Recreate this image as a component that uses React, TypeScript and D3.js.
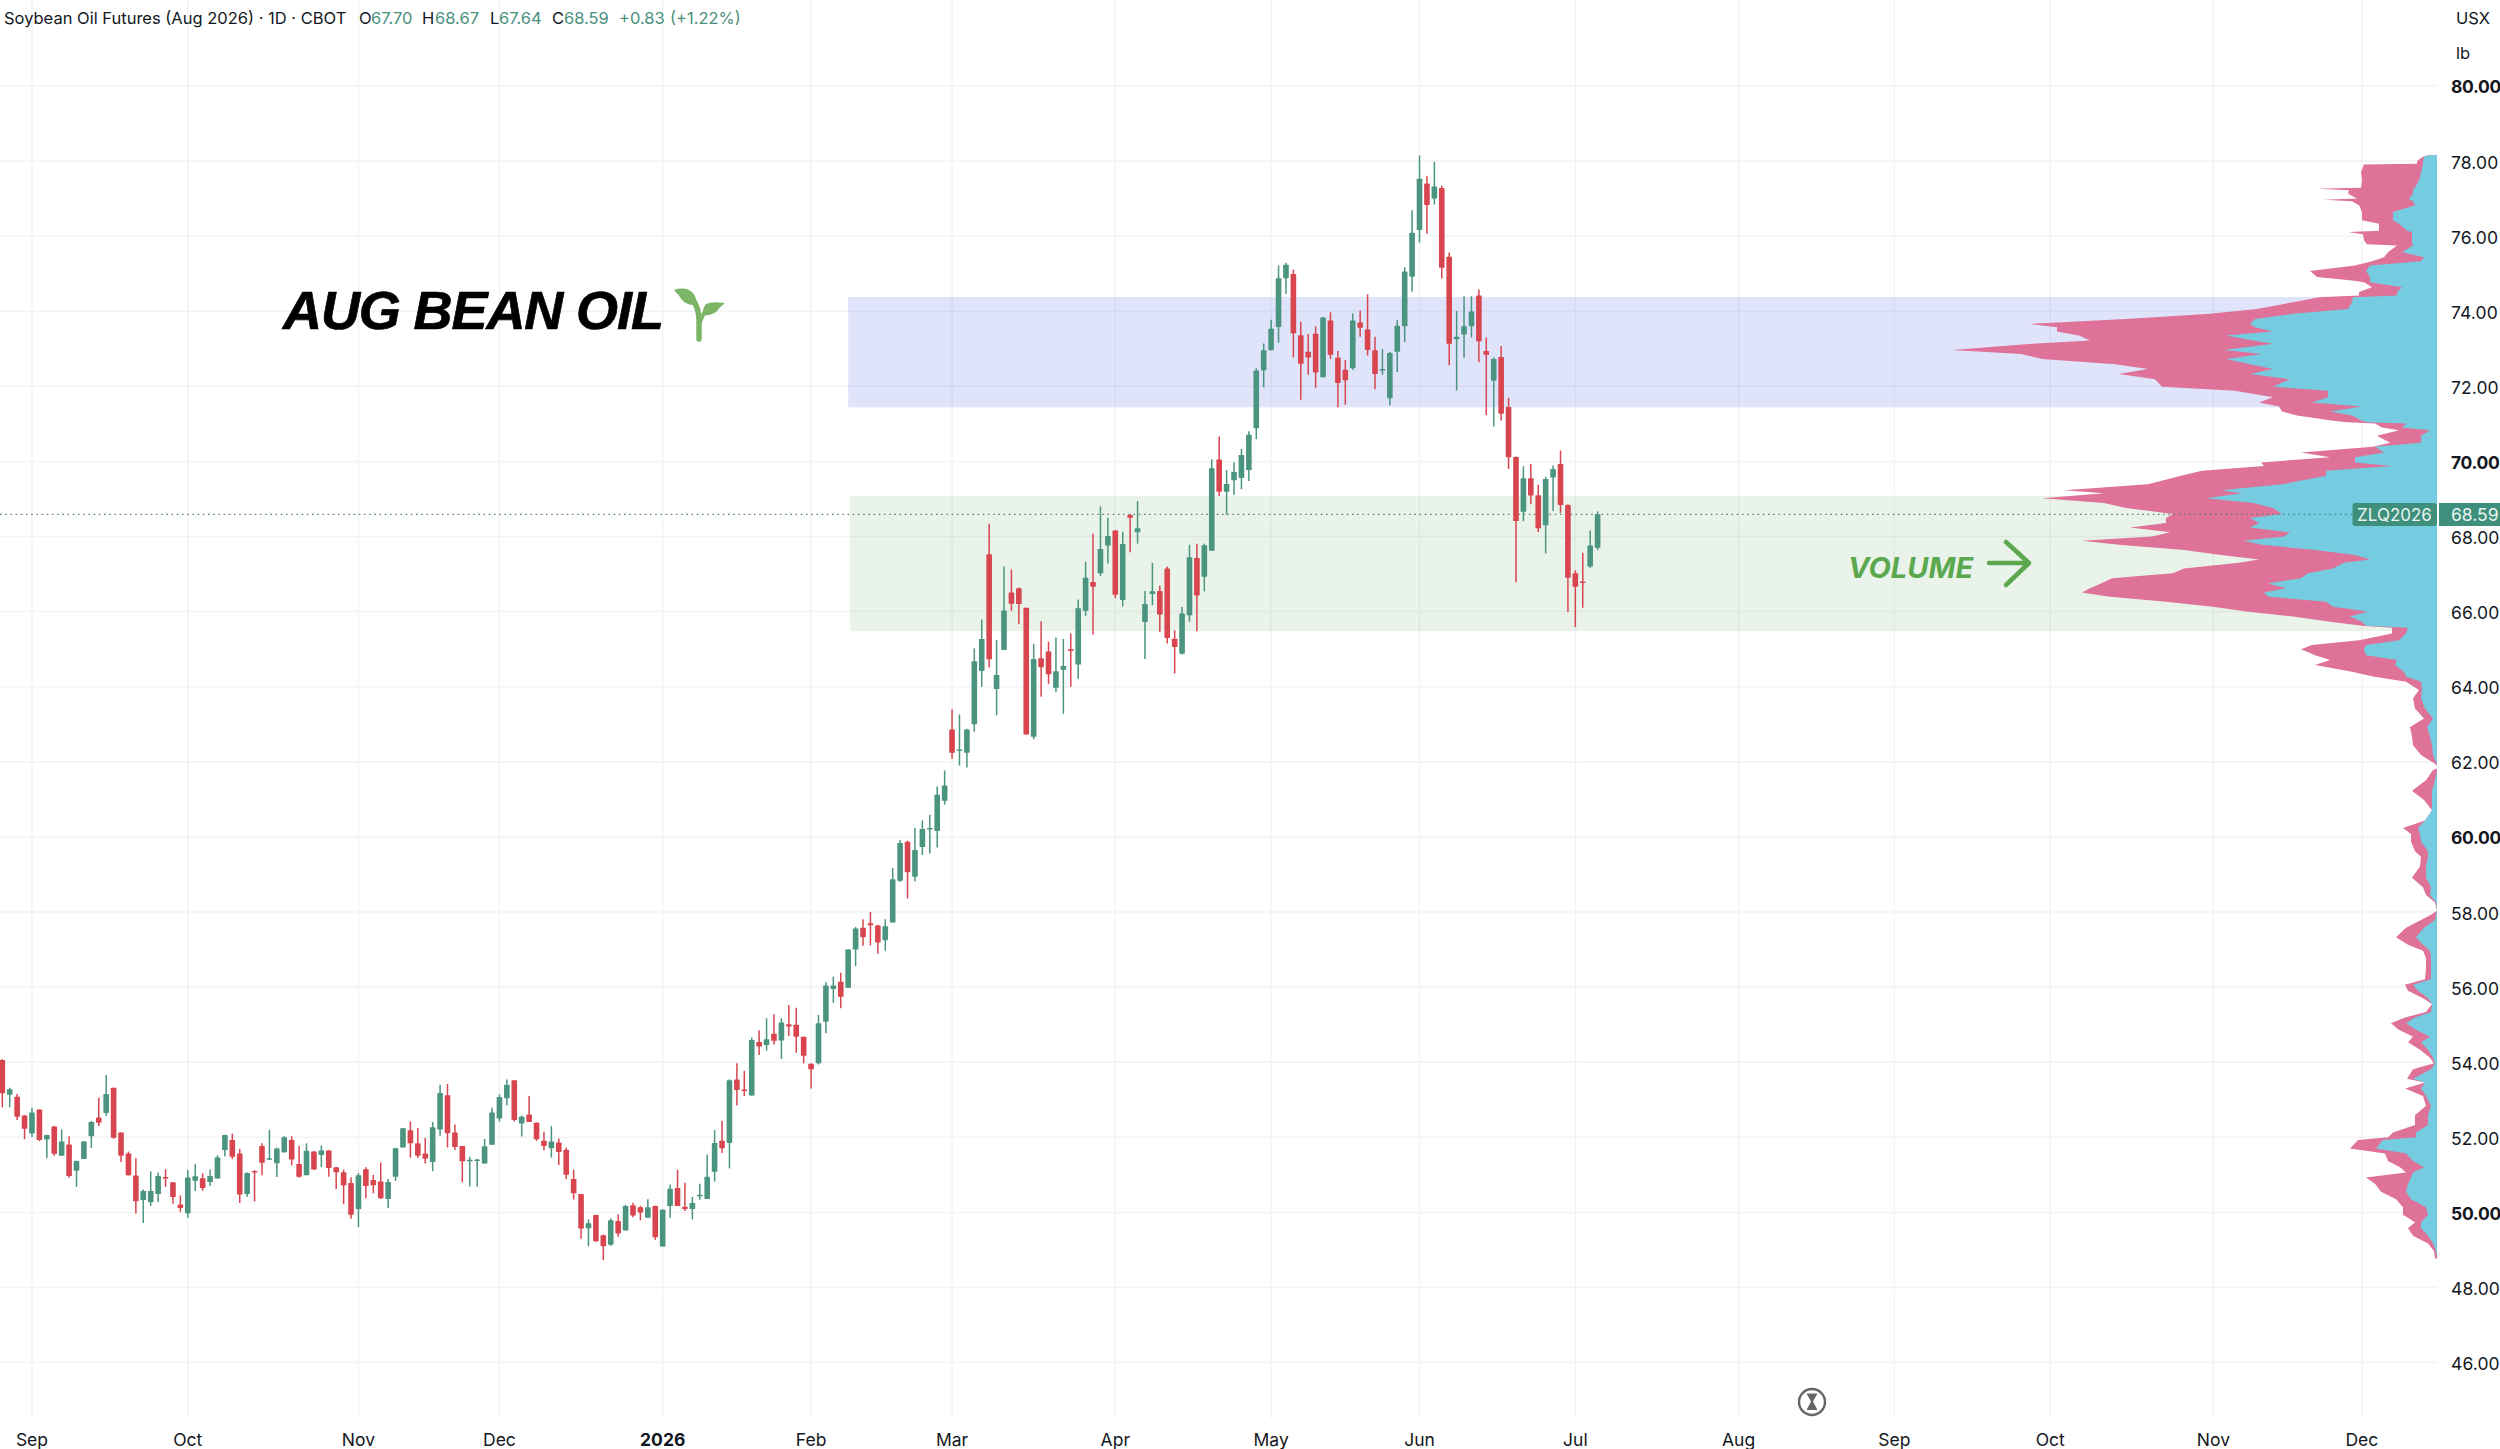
import React from 'react';
import * as d3 from 'd3';

// [open, high, low, close], one array per calendar month
type Bar = [number, number, number, number];

const aug25: Bar[] = [
  [54.06, 54.08, 52.8, 53.17], [53.13, 53.32, 52.8, 53.28], [53.08, 53.15, 52.46, 52.55], [52.58, 52.59, 51.95, 52.23],
];
const sep25: Bar[] = [
  [52.1, 52.79, 52.01, 52.66], [52.74, 52.74, 51.9, 51.93], [51.94, 52.07, 51.44, 52.06], [52.29, 52.3, 51.51, 51.56],
  [51.51, 52.21, 51.51, 51.89], [51.81, 52.03, 50.92, 50.97], [51.11, 51.38, 50.68, 51.37], [51.42, 51.9, 51.42, 51.89],
  [52.03, 52.43, 51.72, 52.41], [52.53, 53.05, 52.3, 52.39], [52.65, 53.66, 52.57, 53.15], [53.32, 53.32, 51.96, 51.99],
  [52.13, 52.13, 51.34, 51.51], [51.57, 51.62, 50.98, 50.99], [50.98, 51.44, 49.97, 50.3], [50.33, 50.61, 49.72, 50.57],
  [50.27, 51.09, 50.17, 50.57], [50.49, 51.06, 50.28, 50.97], [50.94, 51.15, 50.68, 50.9], [50.8, 50.8, 50.23, 50.41],
  [50.21, 50.45, 50.01, 50.12],
];
const oct25: Bar[] = [
  [49.98, 51.13, 49.86, 50.93], [50.84, 51.28, 50.57, 50.96], [50.91, 51.04, 50.58, 50.65], [50.81, 51.14, 50.7, 50.97],
  [50.9, 51.52, 50.9, 51.46], [51.66, 52.07, 51.49, 52.06], [51.93, 52.1, 51.42, 51.48], [51.57, 51.69, 50.25, 50.48],
  [50.49, 51.06, 50.42, 51.05], [51.1, 51.12, 50.29, 51.06], [51.77, 51.84, 50.99, 51.32], [51.4, 52.2, 51.4, 51.44],
  [51.31, 51.73, 50.94, 51.7], [51.6, 52.03, 51.59, 52.0], [51.93, 52.03, 51.25, 51.41], [51.29, 51.77, 50.92, 50.95],
  [50.99, 51.84, 50.99, 51.64], [51.62, 51.63, 51.13, 51.14], [51.53, 51.78, 51.21, 51.65], [51.65, 51.66, 50.95, 51.18],
  [51.2, 51.21, 50.62, 51.07], [51.07, 51.14, 50.22, 50.72], [50.78, 50.93, 49.83, 49.94],
];
const nov25: Bar[] = [
  [50.09, 51.05, 49.61, 50.99], [51.15, 51.2, 50.38, 50.7], [50.86, 51.0, 50.51, 50.72], [50.82, 51.33, 50.36, 50.38],
  [50.36, 50.89, 50.12, 50.81], [50.95, 51.72, 50.84, 51.71], [51.73, 52.25, 51.73, 52.24], [52.19, 52.42, 51.46, 51.84],
  [51.84, 52.25, 51.45, 51.51], [51.57, 51.98, 51.3, 51.43], [51.34, 52.41, 51.1, 52.27], [52.21, 53.4, 52.04, 53.18],
  [53.12, 53.42, 51.73, 52.11], [52.13, 52.34, 51.66, 51.74], [51.77, 51.77, 50.8, 51.36], [51.36, 51.48, 50.69, 51.4],
  [51.37, 51.42, 50.69, 51.41], [51.3, 51.96, 51.3, 51.76], [51.8, 52.79, 51.8, 52.66],
];
const dec25: Bar[] = [
  [52.5, 53.14, 52.42, 53.07], [53.04, 53.54, 52.85, 53.4], [53.52, 53.52, 52.42, 52.46], [52.37, 52.58, 52.02, 52.55],
  [52.61, 53.1, 52.41, 52.41], [52.39, 52.4, 51.9, 51.95], [51.91, 52.15, 51.65, 51.77], [51.71, 52.3, 51.46, 51.89],
  [51.86, 51.97, 51.26, 51.61], [51.67, 51.72, 50.88, 51.0], [50.89, 51.14, 50.34, 50.51], [50.49, 50.49, 49.3, 49.57],
  [49.58, 49.81, 49.1, 49.71], [49.93, 49.94, 49.21, 49.23], [49.39, 49.41, 48.73, 49.1], [49.14, 49.84, 49.11, 49.79],
  [49.77, 49.95, 49.35, 49.44], [49.52, 50.2, 49.52, 50.17], [50.19, 50.26, 49.87, 49.92], [50.14, 50.17, 49.79, 50.0],
  [49.86, 50.35, 49.86, 50.14], [50.17, 50.18, 49.27, 49.34],
];
const jan26: Bar[] = [
  [49.09, 50.08, 49.09, 50.07], [50.17, 50.74, 49.86, 50.63], [50.65, 51.14, 50.17, 50.17], [50.15, 50.79, 50.04, 50.09],
  [50.09, 50.41, 49.81, 50.25], [50.44, 50.76, 50.34, 50.47], [50.36, 51.54, 50.36, 50.95], [51.08, 52.19, 50.82, 51.85],
  [51.91, 52.44, 51.58, 51.71], [51.85, 53.54, 51.17, 53.52], [53.54, 53.97, 52.85, 53.26], [53.27, 53.77, 53.1, 53.23],
  [53.11, 54.66, 53.11, 54.59], [54.54, 54.85, 54.19, 54.42], [54.46, 55.17, 54.31, 54.61], [54.76, 55.28, 54.47, 54.57],
  [54.58, 55.17, 54.09, 55.06], [55.01, 55.52, 54.7, 54.95], [55.0, 55.45, 54.25, 54.68], [54.68, 54.68, 53.97, 54.17],
];
const feb26: Bar[] = [
  [53.96, 53.97, 53.3, 53.81], [53.97, 55.26, 53.94, 55.04], [55.08, 56.13, 54.77, 56.04], [55.95, 56.28, 55.58, 56.04],
  [56.14, 56.38, 55.44, 55.74], [55.98, 57.01, 55.98, 57.0], [57.0, 57.6, 56.56, 57.56], [57.58, 57.81, 57.1, 57.33],
  [57.7, 58.0, 57.11, 57.65], [57.64, 57.66, 56.89, 57.19], [57.25, 57.81, 56.97, 57.62], [57.72, 59.17, 57.72, 58.87],
  [58.83, 59.92, 58.8, 59.84], [59.87, 59.9, 58.36, 59.06], [58.94, 60.24, 58.81, 59.65], [59.73, 60.44, 59.52, 60.21],
  [60.2, 60.59, 59.56, 60.24], [60.16, 61.34, 59.72, 61.12], [60.96, 61.77, 60.86, 61.37],
];
const mar26: Bar[] = [
  [62.86, 63.4, 62.08, 62.24], [62.3, 63.26, 61.9, 62.33], [62.24, 62.88, 61.85, 62.86], [63.0, 65.02, 62.8, 64.68],
  [64.42, 65.79, 64.0, 65.27], [67.53, 68.34, 64.51, 64.73], [63.94, 65.24, 63.24, 64.31], [64.98, 67.2, 64.98, 66.03],
  [66.51, 67.12, 66.02, 66.21], [66.62, 66.64, 65.66, 66.2], [66.1, 66.1, 62.72, 62.73], [62.67, 65.14, 62.6, 64.74],
  [64.76, 65.74, 63.73, 64.52], [64.94, 65.2, 64.07, 64.33], [63.97, 65.31, 63.85, 64.41], [64.45, 65.27, 63.28, 64.55],
  [65.0, 65.42, 64.0, 64.95], [64.59, 66.32, 64.21, 66.09], [66.02, 67.33, 65.89, 66.9], [66.79, 68.07, 65.39, 66.66],
  [67.02, 68.8, 66.95, 67.67], [67.76, 68.5, 67.28, 68.01],
];
const apr26: Bar[] = [
  [68.16, 68.17, 66.36, 66.45], [66.31, 68.13, 66.14, 67.8], [68.57, 68.6, 67.58, 68.5], [68.11, 68.94, 67.81, 68.22],
  [65.72, 66.55, 64.74, 66.2], [66.47, 67.3, 66.17, 66.54], [66.55, 66.69, 65.46, 65.92], [67.15, 67.2, 65.15, 65.3],
  [65.28, 65.5, 64.35, 65.06], [64.88, 66.12, 64.86, 65.95], [65.9, 67.78, 65.73, 67.45], [67.43, 67.81, 65.48, 66.43],
  [66.93, 67.81, 66.54, 67.77], [67.62, 70.06, 67.62, 69.82], [70.05, 70.66, 69.08, 69.19], [69.19, 69.77, 68.58, 69.4],
  [69.5, 69.98, 69.11, 69.72], [69.56, 70.33, 69.26, 70.17], [69.77, 70.8, 69.48, 70.71], [70.88, 72.48, 70.59, 72.42],
  [72.43, 73.14, 71.97, 72.96],
];
const may26: Bar[] = [
  [72.96, 73.77, 72.96, 73.53], [73.58, 75.22, 73.16, 74.88], [74.88, 75.29, 74.46, 75.24], [74.99, 75.11, 72.77, 73.41],
  [73.36, 73.72, 71.64, 72.6], [72.92, 73.39, 72.31, 72.77], [73.4, 73.6, 71.96, 72.37], [72.24, 73.85, 72.24, 73.83],
  [73.75, 73.97, 72.73, 72.84], [72.76, 72.94, 71.44, 72.09], [72.44, 72.7, 71.51, 72.16], [72.48, 73.94, 72.44, 73.75],
  [73.7, 74.02, 73.32, 73.56], [73.51, 74.45, 72.82, 72.97], [72.96, 73.32, 71.92, 72.33], [72.42, 72.99, 72.31, 72.46],
  [71.68, 72.92, 71.49, 72.89], [72.92, 73.77, 72.38, 73.61], [73.6, 75.17, 73.18, 75.06], [74.92, 76.69, 74.52, 76.09],
];
const jun26: Bar[] = [
  [76.16, 78.15, 75.83, 77.53], [77.4, 77.61, 76.06, 76.83], [77.0, 77.98, 76.84, 77.32], [77.28, 77.34, 74.87, 75.16],
  [75.45, 75.56, 72.56, 73.13], [73.25, 74.01, 71.89, 73.32], [73.38, 74.4, 72.76, 73.6], [73.6, 74.4, 73.3, 73.99],
  [74.42, 74.58, 72.64, 73.2], [72.94, 73.3, 71.23, 72.84], [72.15, 72.77, 70.93, 72.73], [72.78, 73.07, 71.09, 71.27],
  [71.45, 71.69, 69.8, 70.11], [70.12, 70.13, 66.78, 68.41], [68.66, 69.87, 68.41, 69.55], [69.55, 69.93, 68.86, 69.09],
  [69.1, 69.38, 68.12, 68.22], [68.3, 69.59, 67.55, 69.53], [69.57, 69.89, 68.68, 69.8], [69.93, 70.29, 68.63, 68.84],
  [68.84, 68.86, 65.99, 66.9],
];
const jul26: Bar[] = [
  [67.02, 67.1, 65.59, 66.66], [66.8, 67.57, 66.1, 66.76], [67.2, 68.16, 67.16, 67.76], [67.7, 68.67, 67.64, 68.59],
];

const bars: Bar[] = [...aug25, ...sep25, ...oct25, ...nov25, ...dec25, ...jan26, ...feb26, ...mar26, ...apr26, ...may26, ...jun26, ...jul26];

const priceTicks = [80, 78, 76, 74, 72, 70, 68, 66, 64, 62, 60, 58, 56, 54, 52, 50, 48, 46];
const boldPrices = [80, 70, 60, 50];

// month label and the bar index where it sits
const monthLabels = ['Sep', 'Oct', 'Nov', 'Dec', '2026', 'Feb', 'Mar', 'Apr', 'May', 'Jun', 'Jul', 'Aug', 'Sep', 'Oct', 'Nov', 'Dec'];
const monthBars = [4, 25, 48, 67, 89, 109, 128, 150, 171, 191, 212, 234, 255, 276, 298, 318];

// visible range profile: price level, total volume (pink edge), up volume (blue edge)
const profilePrices = [
  78.15, 78.11, 78.0, 77.93, 77.91, 77.71, 77.49, 77.29, 77.26, 77.22, 77.13, 77.0, 76.97, 76.93, 76.82, 76.64, 76.42, 76.33, 76.14, 76.11,
  76.05, 75.88, 75.78, 75.75, 75.57, 75.44, 75.33, 75.22, 75.07, 74.91, 74.82, 74.77, 74.64, 74.51, 74.42, 74.37, 74.24, 74.06, 73.93, 73.79,
  73.66, 73.57, 73.46, 73.35, 73.22, 73.13, 72.97, 72.86, 72.73, 72.59, 72.46, 72.33, 72.19, 71.99, 71.88, 71.71, 71.57, 71.46, 71.33, 71.22,
  71.08, 71.04, 71.01, 70.9, 70.83, 70.68, 70.5, 70.39, 70.24, 70.11, 69.97, 69.88, 69.75, 69.62, 69.39, 69.23, 69.15, 69.02, 68.89, 68.76,
  68.6, 68.49, 68.36, 68.24, 68.11, 68.0, 67.89, 67.78, 67.64, 67.51, 67.39, 67.3, 67.15, 67.02, 66.89, 66.75, 66.62, 66.51, 66.4, 66.26,
  66.13, 66.0, 65.87, 65.73, 65.62, 65.57, 65.42, 65.24, 65.11, 65.0, 64.84, 64.71, 64.58, 64.4, 64.27, 64.13, 63.91, 63.69, 63.42, 63.15,
  62.93, 62.67, 62.44, 62.18, 61.93, 61.88, 61.82, 61.78, 61.51, 61.23, 60.98, 60.71, 60.44, 60.24, 60.08, 59.88, 59.62, 59.47, 59.22, 58.91,
  58.66, 58.45, 58.25, 58.04, 57.94, 57.79, 57.58, 57.33, 57.13, 56.97, 56.77, 56.51, 56.21, 56.06, 55.9, 55.7, 55.55, 55.34, 55.19, 55.04,
  54.88, 54.68, 54.53, 54.33, 54.12, 53.97, 53.81, 53.56, 53.46, 53.3, 53.1, 52.84, 52.59, 52.33, 52.13, 52.0, 51.93, 51.7, 51.57, 51.37,
  51.2, 51.06, 50.93, 50.76, 50.55, 50.35, 50.14, 49.94, 49.74, 49.58, 49.38, 49.17, 48.97, 48.77,
];
const totalVolume = [
  9, 14, 20, 20, 73, 76, 75, 76, 120, 88, 89, 80, 113, 85, 78, 75, 75, 58, 58, 89,
  74, 73, 70, 40, 49, 53, 65, 82, 127, 120, 85, 73, 65, 78, 78, 118, 144, 180, 227, 311,
  407, 380, 380, 358, 347, 405, 485, 416, 395, 322, 289, 318, 282, 275, 202, 164, 178, 158, 155, 140,
  104, 90, 62, 55, 38, 60, 47, 64, 136, 107, 176, 173, 235, 256, 289, 373, 333, 395, 333, 311,
  264, 271, 271, 307, 267, 285, 355, 318, 253, 216, 178, 198, 253, 264, 325, 336, 347, 355, 329, 271,
  224, 191, 144, 107, 75, 45, 45, 78, 125, 136, 122, 107, 122, 85, 64, 31, 18, 24, 22, 13,
  27, 25, 24, 16, 1, 0, 0, 4, 11, 25, 13, 5, 12, 34, 26, 26, 22, 16, 17, 25,
  14, 11, 2, 0, 5, 16, 31, 41, 29, 14, 11, 11, 12, 32, 29, 14, 5, 11, 32, 46,
  39, 24, 29, 17, 7, 3, 24, 30, 12, 32, 14, 11, 22, 22, 44, 49, 79, 87, 52, 49,
  37, 31, 71, 62, 56, 41, 34, 34, 22, 29, 24, 9, 3, 2,
];
const upVolume = [
  9, 13, 14, 14, 14, 16, 18, 22, 24, 24, 24, 28, 27, 24, 22, 44, 44, 38, 30, 25,
  25, 25, 25, 24, 35, 13, 16, 67, 71, 67, 67, 67, 35, 40, 40, 84, 85, 89, 144, 182,
  187, 182, 164, 211, 184, 164, 213, 175, 211, 187, 164, 187, 147, 164, 109, 109, 125, 75, 107, 85,
  75, 70, 31, 35, 7, 16, 16, 62, 53, 82, 82, 45, 111, 111, 155, 216, 195, 231, 184, 164,
  155, 187, 178, 187, 147, 153, 193, 175, 122, 82, 67, 93, 104, 129, 136, 169, 151, 173, 169, 111,
  104, 69, 87, 75, 71, 29, 31, 38, 71, 73, 71, 40, 42, 33, 31, 16, 15, 16, 12, 4,
  10, 7, 5, 4, 0, 0, 0, 0, 2, 5, 5, 5, 12, 19, 17, 16, 9, 9, 11, 11,
  6, 7, 1, 0, 1, 2, 13, 21, 14, 7, 6, 6, 6, 24, 19, 9, 5, 6, 22, 31,
  22, 7, 16, 9, 4, 2, 6, 24, 12, 16, 11, 6, 9, 9, 21, 21, 54, 61, 31, 24,
  13, 24, 26, 29, 31, 26, 11, 9, 16, 16, 9, 4, 1, 0,
];

const lastPrice = 68.59;
const GREEN = '#4A9480';
const RED = '#D8454F';
const TICK = '#131722';
const FONT = 'Inter, "Noto Sans", sans-serif';

const y = d3.scaleLinear().domain([78, 48]).range([161, 1287.5]);
const x = d3.scaleLinear().domain([0, 215]).range([2.3, 1597.6]);
const PROFILE_RIGHT = 2437;
const vol = d3.scaleLinear().domain([0, 500]).range([PROFILE_RIGHT, PROFILE_RIGHT - 500]);

const profileArea = (values: number[]) =>
  d3
    .area<number>()
    .y((d) => y(d))
    .x0(PROFILE_RIGHT)
    .x1((_, i) => vol(values[i]))(profilePrices) as string;

// O H L C read-out in the header
const headerBits: { text: string; at: number; value?: boolean }[] = [
  { text: 'Soybean Oil Futures (Aug 2026) · 1D · CBOT', at: 4 },
  { text: 'O', at: 359 },
  { text: '67.70', at: 371, value: true },
  { text: 'H', at: 422 },
  { text: '68.67', at: 435, value: true },
  { text: 'L', at: 490 },
  { text: '67.64', at: 499, value: true },
  { text: 'C', at: 552 },
  { text: '68.59', at: 564, value: true },
  { text: '+0.83', at: 619, value: true },
  { text: '(+1.22%)', at: 670, value: true },
];

export default function App() {
  const bandLeft = x(114);
  return (
    <svg
      width={2500}
      height={1449}
      style={{ position: 'absolute', left: 0, top: 0, background: '#fff', display: 'block' }}
    >
      {/* grid */}
      {priceTicks.map((p) => (
        <line key={p} x1={0} x2={PROFILE_RIGHT} y1={y(p)} y2={y(p)} stroke="#F2F3F5" strokeWidth={1.5} />
      ))}
      {monthBars.map((b, i) => (
        <line key={i} x1={x(b)} x2={x(b)} y1={0} y2={1418} stroke="#F2F3F5" strokeWidth={1.5} />
      ))}

      {/* zones */}
      <rect x={bandLeft} width={PROFILE_RIGHT - bandLeft} y={y(74.38)} height={y(71.44) - y(74.38)} fill="rgb(60,90,230)" opacity={0.16} />
      <rect x={bandLeft + 2} width={PROFILE_RIGHT - bandLeft - 2} y={y(69.08)} height={y(65.48) - y(69.08)} fill="rgb(76,160,70)" opacity={0.12} />

      {/* volume profile */}
      <path d={profileArea(totalVolume)} fill="#DF7298" />
      <path d={profileArea(upVolume)} fill="#75CBDF" />

      {/* last price line */}
      <line x1={0} x2={PROFILE_RIGHT} y1={y(lastPrice)} y2={y(lastPrice)} stroke="#4F7F73" strokeWidth={1.4} strokeDasharray="1.5 3.7" />

      {/* candles */}
      {bars.map(([o, h, l, c], i) => {
        const color = c >= o ? GREEN : RED;
        const top = y(Math.max(o, c));
        const bot = y(Math.min(o, c));
        return (
          <g key={i}>
            <line x1={x(i)} x2={x(i)} y1={y(h)} y2={y(l)} stroke={color} strokeWidth={1.5} />
            <rect x={x(i) - 2.8} width={5.6} y={top} height={Math.max(bot - top, 1.5)} rx={0.6} fill={color} />
          </g>
        );
      })}

      {/* header */}
      {headerBits.map((b) => (
        <text key={b.at} x={b.at} y={24} fontFamily={FONT} fontSize={16.5} fill={b.value ? '#4A8F7B' : TICK}>
          {b.text}
        </text>
      ))}

      {/* price axis */}
      <text x={2456} y={24} fontFamily={FONT} fontSize={16.5} fill={TICK}>USX</text>
      <text x={2456} y={59} fontFamily={FONT} fontSize={16.5} fill={TICK}>lb</text>
      {priceTicks.map((p) => (
        <text
          key={p}
          x={2451}
          y={y(p) + 7.5}
          fontFamily={FONT}
          fontSize={17.5}
          fontWeight={boldPrices.includes(p) ? 700 : 400}
          letterSpacing={boldPrices.includes(p) ? -0.3 : 0.1}
          fill={TICK}
        >
          {d3.format('.2f')(p)}
        </text>
      ))}

      {/* time axis */}
      {monthLabels.map((m, i) => (
        <text
          key={i}
          x={x(monthBars[i])}
          y={1446}
          textAnchor="middle"
          fontFamily={FONT}
          fontSize={17.5}
          fontWeight={m === '2026' ? 700 : 400}
          fill={TICK}
        >
          {m}
        </text>
      ))}

      {/* last price tags */}
      <rect x={2352.5} y={503} width={84.5} height={23} rx={3} fill="#3F8F7D" />
      <rect x={2439} y={503} width={61} height={23} fill="#3F8F7D" />
      <text x={2394.5} y={520.5} textAnchor="middle" fontFamily={FONT} fontSize={17} fill="#E8F4F0">ZLQ2026</text>
      <text x={2451} y={520.5} fontFamily={FONT} fontSize={17.5} fill="#E8F4F0">68.59</text>

      {/* annotations */}
      <text
        x={283}
        y={329}
        fontFamily='"Liberation Sans", Arial, sans-serif'
        fontWeight={700}
        fontStyle="italic"
        fontSize={54}
        letterSpacing={-1.1}
        stroke="#000"
        strokeWidth={0.7}
      >
        AUG BEAN OIL
      </text>
      <g fill="#7DB567">
        <path d="M674 290 Q686 286 693 293 Q697 298 696 305 Q688 306 682 300 Q678 294 674 290Z" />
        <path d="M725 303 Q712 301 706 304 Q702 309 703 315 Q712 316 717 311 Q721 306 725 303Z" />
        <path d="M699 339 L699 320 Q699 308 692 298" fill="none" stroke="#7DB567" strokeWidth={5.5} strokeLinecap="round" />
        <path d="M699 326 Q701 316 708 308" fill="none" stroke="#7DB567" strokeWidth={4} />
      </g>
      <text x={1848} y={578} fontFamily={FONT} fontWeight={700} fontStyle="italic" fontSize={29} fill="#5BA84F">
        VOLUME
      </text>
      <path d="M1989 563 H2029 M2006 542 L2029 563 L2006 585" fill="none" stroke="#5BA84F" strokeWidth={4.5} strokeLinecap="round" strokeLinejoin="round" />

      {/* market closed icon */}
      <circle cx={1812} cy={1402} r={13} fill="#fff" stroke="#666" strokeWidth={2.4} />
      <path d="M1806.5 1393.5 H1817.5 L1813 1401.5 L1817.5 1410 H1806.5 L1811 1401.5Z" fill="#666" />
    </svg>
  );
}
